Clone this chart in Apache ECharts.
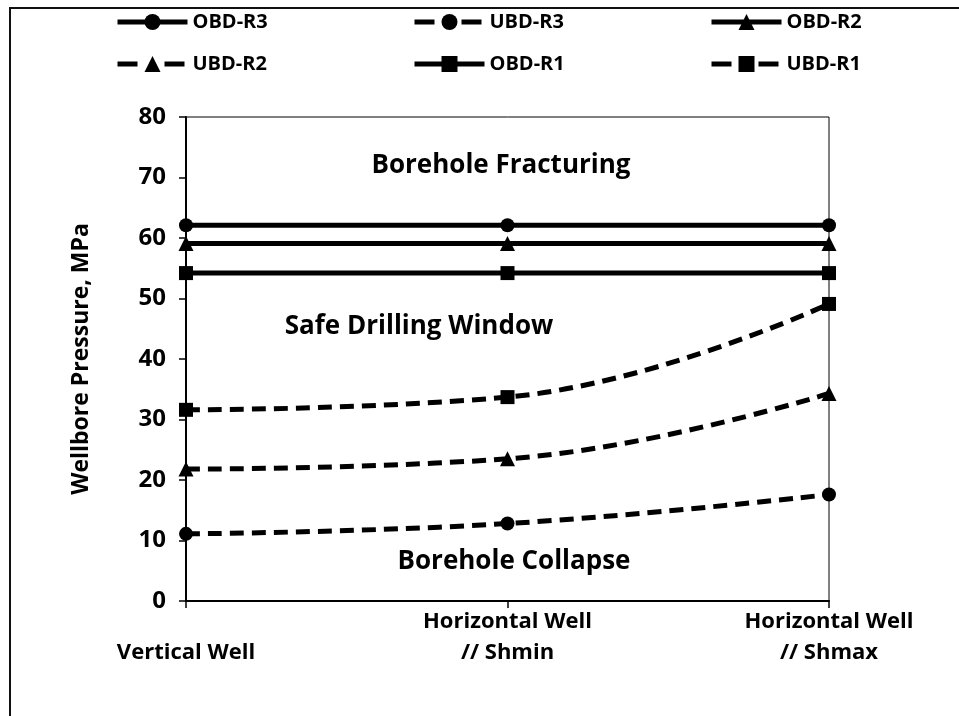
<!DOCTYPE html>
<html>
<head>
<meta charset="utf-8">
<script src="https://cdn.jsdelivr.net/npm/echarts@6/dist/echarts.min.js"></script>
<style>
html, body { margin: 0; padding: 0; background: #fff; }
#chart { width: 959px; height: 716px; }
</style>
</head>
<body>
<div id="chart"></div>
<script>
// categories on the x axis
const categories = ['Vertical Well', 'Horizontal Well\n// Shmin', 'Horizontal Well\n// Shmax']

// overbalanced (upper) and underbalanced (lower) pressure limits, MPa
const obdR3 = [62.1, 62.1, 62.1]
const obdR2 = [59.1, 59.1, 59.1]
const obdR1 = [54.2, 54.2, 54.2]
const ubdR3 = [11.1, 12.8, 17.6]
const ubdR2 = [21.8, 23.5, 34.3]
const ubdR1 = [31.6, 33.7, 49.1]

const yTicks = { min: 0, max: 80, interval: 10 }

const fontFamily = '"Open Sans", Lato, sans-serif'
const chartInstance = echarts.init(document.getElementById('chart'), null, { renderer: 'canvas' })

function makeSeries(name, data, symbol, dashed) {
    return {
        name: name,
        type: 'line',
        data: data,
        symbol: symbol,
        symbolSize: symbol === 'triangle' ? 15 : 14,
        smooth: dashed ? 0.45 : false,
        color: '#000',
        lineStyle: {
            color: '#000',
            width: 5,
            type: dashed ? [14, 8] : 'solid'
        },
        itemStyle: { color: '#000' },
        emphasis: { disabled: true }
    }
}

const seriesArr = [
    makeSeries('OBD-R3', obdR3, 'circle', false),
    makeSeries('UBD-R3', ubdR3, 'circle', true),
    makeSeries('OBD-R2', obdR2, 'triangle', false),
    makeSeries('UBD-R2', ubdR2, 'triangle', true),
    makeSeries('OBD-R1', obdR1, 'rect', false),
    makeSeries('UBD-R1', ubdR1, 'rect', true)
]

// legend laid out as 3 equal columns x 2 rows
const legendCols = [115, 412, 709]
const legendRows = [12, 54]
const legendArr = seriesArr.map((s, i) => ({
    data: [s.name],
    left: legendCols[i % 3],
    top: legendRows[Math.floor(i / 3)],
    padding: 0,
    itemWidth: 70,
    itemHeight: 20,
    itemGap: 4,
    selectedMode: false,
    lineStyle: {
        width: 5,
        color: '#000',
        type: s.lineStyle.type === 'solid' ? 'solid' : [20, 27]
    },
    textStyle: { fontFamily: fontFamily, fontWeight: 'bold', fontSize: 20, color: '#000' }
}))

const labelStyle = { fontFamily: fontFamily, fontWeight: 'bold', color: '#000' }
const noteFont = 'bold 26px ' + fontFamily

const option = {
    animation: false,
    backgroundColor: '#fff',
    legend: legendArr,
    grid: {
        left: 186,
        right: 130,
        top: 117,
        bottom: 115,
        show: true,
        borderColor: '#000',
        borderWidth: 1
    },
    xAxis: {
        type: 'category',
        data: categories,
        boundaryGap: false,
        axisLine: { lineStyle: { color: '#000', width: 2 } },
        axisTick: { show: true, alignWithLabel: true, length: 7, lineStyle: { color: '#000', width: 1.5 } },
        splitLine: { show: false },
        axisLabel: Object.assign({}, labelStyle, {
            fontSize: 22,
            lineHeight: 31,
            margin: 5,
            formatter: v => (v.indexOf('\n') < 0 ? '\n' + v : v)
        })
    },
    yAxis: {
        type: 'value',
        min: yTicks.min,
        max: yTicks.max,
        interval: yTicks.interval,
        name: 'Wellbore Pressure, MPa',
        nameLocation: 'middle',
        nameRotate: 90,
        nameGap: 93,
        nameTextStyle: Object.assign({}, labelStyle, { fontSize: 23 }),
        axisLine: { show: true, lineStyle: { color: '#000', width: 2 } },
        axisTick: { show: true, length: 7, lineStyle: { color: '#000', width: 1.5 } },
        splitLine: { show: false },
        axisLabel: Object.assign({}, labelStyle, { fontSize: 24, margin: 20 })
    },
    graphic: [
        // outer frame: only top and left edges are visible in the figure
        {
            type: 'polyline',
            shape: { points: [[10, 716], [10, 8], [959, 8]] },
            style: { fill: 'none', stroke: '#111', lineWidth: 2 },
            silent: true
        },
        {
            type: 'text',
            style: { text: 'Borehole Fracturing', x: 501, y: 166, align: 'center', verticalAlign: 'middle', font: noteFont, fill: '#000' }
        },
        {
            type: 'text',
            style: { text: 'Safe Drilling Window', x: 419, y: 327, align: 'center', verticalAlign: 'middle', font: noteFont, fill: '#000' }
        },
        {
            type: 'text',
            style: { text: 'Borehole Collapse', x: 514, y: 562, align: 'center', verticalAlign: 'middle', font: noteFont, fill: '#000' }
        }
    ],
    series: seriesArr
}

chartInstance.setOption(option)
</script>
</body>
</html>
